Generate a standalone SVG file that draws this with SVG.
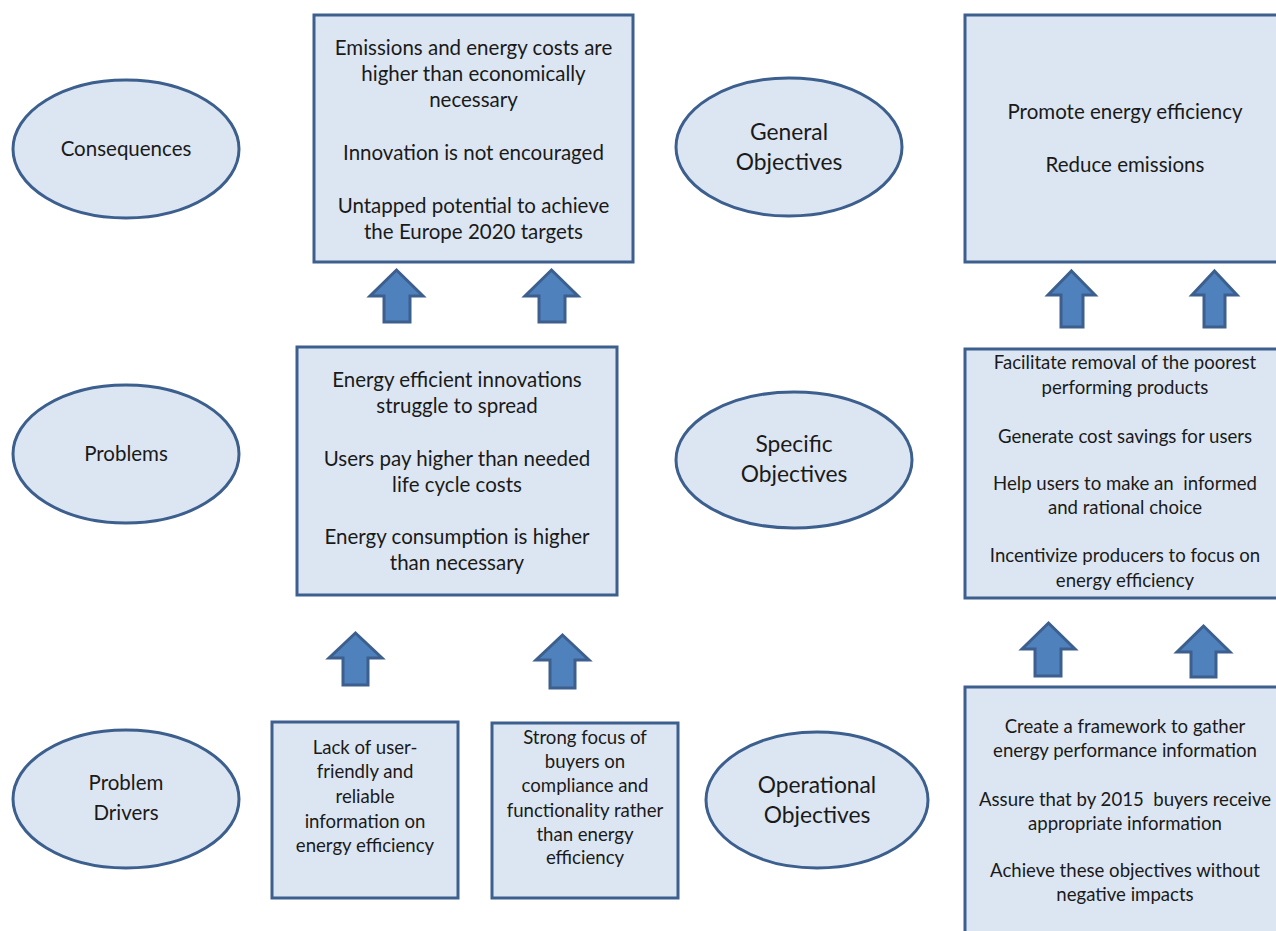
<svg xmlns="http://www.w3.org/2000/svg" width="1276" height="931" viewBox="0 0 1276 931">
<style>
.n{fill:#dce6f2;stroke:#3c5f8e;stroke-width:3}
.a{fill:#4f81bd;stroke:#3c5f8e;stroke-width:3;stroke-linejoin:miter}
text{font-family:Lato,"Liberation Sans",sans-serif;fill:#1a1a1a;text-anchor:middle}
.t19{font-size:20.5px}
.t21{font-size:22.8px}
.t17{font-size:18.6px}
</style>
<rect width="1276" height="931" fill="#fff"/>
<g id="connectors">
<polygon class="a" points="396.5,270 423,296 410,296 410,322 384,322 384,296 370,296"/>
<polygon class="a" points="551.5,270 578,296 565,296 565,322 539,322 539,296 525,296"/>
<polygon class="a" points="355.5,633 382,658 368,658 368,685 343,685 343,658 329,658"/>
<polygon class="a" points="562.5,635 589,660 575,660 575,688 550,688 550,660 536,660"/>
<polygon class="a" points="1071.5,271 1095,295 1083,295 1083,327 1061,327 1061,295 1048,295"/>
<polygon class="a" points="1214.5,271 1237,295 1225,295 1225,327 1204,327 1204,295 1192,295"/>
<polygon class="a" points="1048.5,623 1075,649 1061,649 1061,676 1035,676 1035,649 1022,649"/>
<polygon class="a" points="1203.5,626 1230,652 1216,652 1216,677 1191,677 1191,652 1177,652"/>
</g>
<g id="consequences">
<ellipse class="n" cx="126" cy="149" rx="113" ry="69"/>
<text class="t19" x="126" y="156">Consequences</text>
</g>
<g id="problems">
<ellipse class="n" cx="126" cy="454" rx="113" ry="69"/>
<text class="t19" x="126" y="461">Problems</text>
</g>
<g id="problem-drivers">
<ellipse class="n" cx="126" cy="799" rx="113" ry="69"/>
<text class="t19" x="126" y="790">Problem</text>
<text class="t19" x="126" y="820">Drivers</text>
</g>
<g id="general-objectives">
<ellipse class="n" cx="789" cy="147" rx="113" ry="69"/>
<text class="t21" x="789" y="140">General</text>
<text class="t21" x="789" y="170">Objectives</text>
</g>
<g id="specific-objectives">
<ellipse class="n" cx="794" cy="460" rx="118" ry="68"/>
<text class="t21" x="794" y="452">Specific</text>
<text class="t21" x="794" y="482">Objectives</text>
</g>
<g id="operational-objectives">
<ellipse class="n" cx="817" cy="800" rx="111" ry="68"/>
<text class="t21" x="817" y="793">Operational</text>
<text class="t21" x="817" y="823">Objectives</text>
</g>
<g id="consequences-box">
<rect class="n" x="314" y="15" width="319" height="247"/>
<text class="t19" x="473.5" y="55">Emissions and energy costs are</text>
<text class="t19" x="473.5" y="81">higher than economically</text>
<text class="t19" x="473.5" y="107">necessary</text>
<text class="t19" x="473.5" y="160">Innovation is not encouraged</text>
<text class="t19" x="473.5" y="213">Untapped potential to achieve</text>
<text class="t19" x="473.5" y="239">the Europe 2020 targets</text>
</g>
<g id="problems-box">
<rect class="n" x="297" y="347" width="320" height="248"/>
<text class="t19" x="457" y="387">Energy efficient innovations</text>
<text class="t19" x="457" y="413">struggle to spread</text>
<text class="t19" x="457" y="466">Users pay higher than needed</text>
<text class="t19" x="457" y="492">life cycle costs</text>
<text class="t19" x="457" y="544">Energy consumption is higher</text>
<text class="t19" x="457" y="570">than necessary</text>
</g>
<g id="driver-1">
<rect class="n" x="272" y="722" width="186" height="176"/>
<text class="t17" x="365" y="754">Lack of user-</text>
<text class="t17" x="365" y="778">friendly and</text>
<text class="t17" x="365" y="803">reliable</text>
<text class="t17" x="365" y="828">information on</text>
<text class="t17" x="365" y="852">energy efficiency</text>
</g>
<g id="driver-2">
<rect class="n" x="492" y="723" width="186" height="175"/>
<text class="t17" x="585" y="744">Strong focus of</text>
<text class="t17" x="585" y="768">buyers on</text>
<text class="t17" x="585" y="792">compliance and</text>
<text class="t17" x="585" y="817">functionality rather</text>
<text class="t17" x="585" y="841">than energy</text>
<text class="t17" x="585" y="864">efficiency</text>
</g>
<g id="general-box">
<rect class="n" x="965" y="15" width="320" height="247"/>
<text class="t19" x="1125" y="119">Promote energy efficiency</text>
<text class="t19" x="1125" y="172">Reduce emissions</text>
</g>
<g id="specific-box">
<rect class="n" x="965" y="349" width="320" height="249"/>
<text class="t17" x="1125" y="369">Facilitate removal of the poorest</text>
<text class="t17" x="1125" y="394">performing products</text>
<text class="t17" x="1125" y="443">Generate cost savings for users</text>
<text class="t17" x="1125" y="490">Help users to make an&#160; informed</text>
<text class="t17" x="1125" y="514">and rational choice</text>
<text class="t17" x="1125" y="562">Incentivize producers to focus on</text>
<text class="t17" x="1125" y="587">energy efficiency</text>
</g>
<g id="operational-box">
<rect class="n" x="965" y="687" width="320" height="260"/>
<text class="t17" x="1125" y="733">Create a framework to gather</text>
<text class="t17" x="1125" y="757">energy performance information</text>
<text class="t17" x="1125" y="806">Assure that by 2015&#160; buyers receive</text>
<text class="t17" x="1125" y="830">appropriate information</text>
<text class="t17" x="1125" y="877">Achieve these objectives without</text>
<text class="t17" x="1125" y="901">negative impacts</text>
</g>
</svg>
